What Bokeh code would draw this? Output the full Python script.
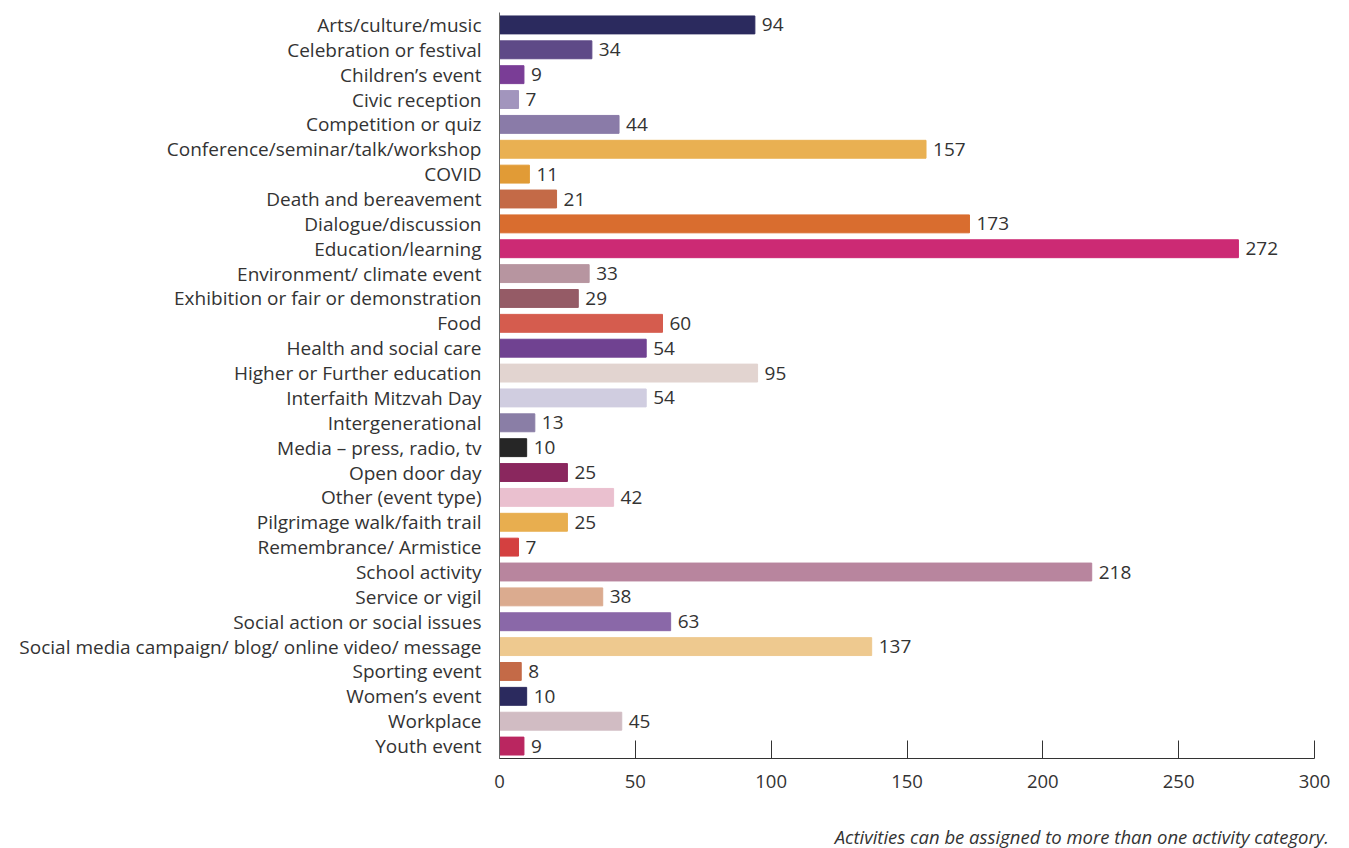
from bokeh.plotting import figure
from bokeh.models import ColumnDataSource, FactorRange, FixedTicker, Div
from bokeh.layouts import column
from bokeh.core.properties import value
from bokeh.embed import file_html
from bokeh.resources import INLINE

categories = [
    "Arts/culture/music", "Celebration or festival", "Children’s event", "Civic reception",
    "Competition or quiz", "Conference/seminar/talk/workshop", "COVID", "Death and bereavement",
    "Dialogue/discussion", "Education/learning", "Environment/ climate event",
    "Exhibition or fair or demonstration", "Food", "Health and social care",
    "Higher or Further education", "Interfaith Mitzvah Day", "Intergenerational",
    "Media – press, radio, tv", "Open door day", "Other (event type)",
    "Pilgrimage walk/faith trail", "Remembrance/ Armistice", "School activity",
    "Service or vigil", "Social action or social issues",
    "Social media campaign/ blog/ online video/ message", "Sporting event",
    "Women’s event", "Workplace", "Youth event",
]
counts = [94, 34, 9, 7, 44, 157, 11, 21, 173, 272, 33, 29, 60, 54, 95, 54, 13, 10, 25, 42,
          25, 7, 218, 38, 63, 137, 8, 10, 45, 9]
colors = ["#2b2a5e", "#5e4a87", "#7a3d96", "#a295bd", "#8a7ba8", "#e9b052", "#e19b36",
          "#c46a47", "#d96d2f", "#cc2a74", "#b795a0", "#955b66", "#d55c4e", "#704291",
          "#e2d4d0", "#d0cde0", "#8a7ea6", "#262626", "#8a275e", "#eac0cf", "#e8ae4f",
          "#d44040", "#b8859e", "#dbab8f", "#8a68a8", "#eec98f", "#c46a47", "#2b2a5e",
          "#d1bcc3", "#ba2660"]
x_ticks = [0, 50, 100, 150, 200, 250, 300]
footnote = "Activities can be assigned to more than one activity category."

FONT = "Open Sans"
FS = "19px"
TXT = "#333333"

source = ColumnDataSource(dict(cat=categories, val=counts, color=colors,
                               lab=[str(v) for v in counts]))

p = figure(width=1341, height=806, output_backend="svg", toolbar_location=None,
           y_range=FactorRange(factors=list(reversed(categories)), range_padding=0),
           x_range=(0, 300), min_border_left=499, min_border_right=27,
           min_border_top=12, min_border_bottom=48)
p.outline_line_color = None
p.grid.grid_line_color = None
p.background_fill_color = "white"

p.hbar(y="cat", right="val", left=0, height=0.72, color="color", source=source)
p.text(x="val", y="cat", text="lab", source=source, x_offset=7, text_baseline="middle",
       text_align="left", text_font=value(FONT), text_font_size=FS, text_color=TXT)

p.xaxis.ticker = FixedTicker(ticks=x_ticks)
p.xaxis.major_tick_in = 18
p.xaxis.major_tick_out = 0
p.xaxis.minor_tick_line_color = None
p.xaxis.axis_line_color = "#333333"
p.xaxis.major_tick_line_color = "#333333"
p.xaxis.major_label_standoff = 16
p.xaxis.major_label_text_font = FONT
p.xaxis.major_label_text_font_size = "18.5px"
p.xaxis.major_label_text_color = TXT

p.yaxis.major_tick_line_color = None
p.yaxis.minor_tick_line_color = None
p.yaxis.axis_line_color = "#666666"
p.yaxis.major_label_standoff = 12
p.yaxis.major_label_text_font = FONT
p.yaxis.major_label_text_font_size = FS
p.yaxis.major_label_text_color = TXT

note = Div(text=footnote, width=1324, height=40,
           styles={"text-align": "right", "font-style": "italic", "font-family": "Open Sans",
                   "font-size": "18.5px", "color": TXT, "line-height": "22px",
                   "padding-top": "15px"})

layout = column(p, note, spacing=0)
open("out.html", "w").write(file_html(layout, INLINE))
